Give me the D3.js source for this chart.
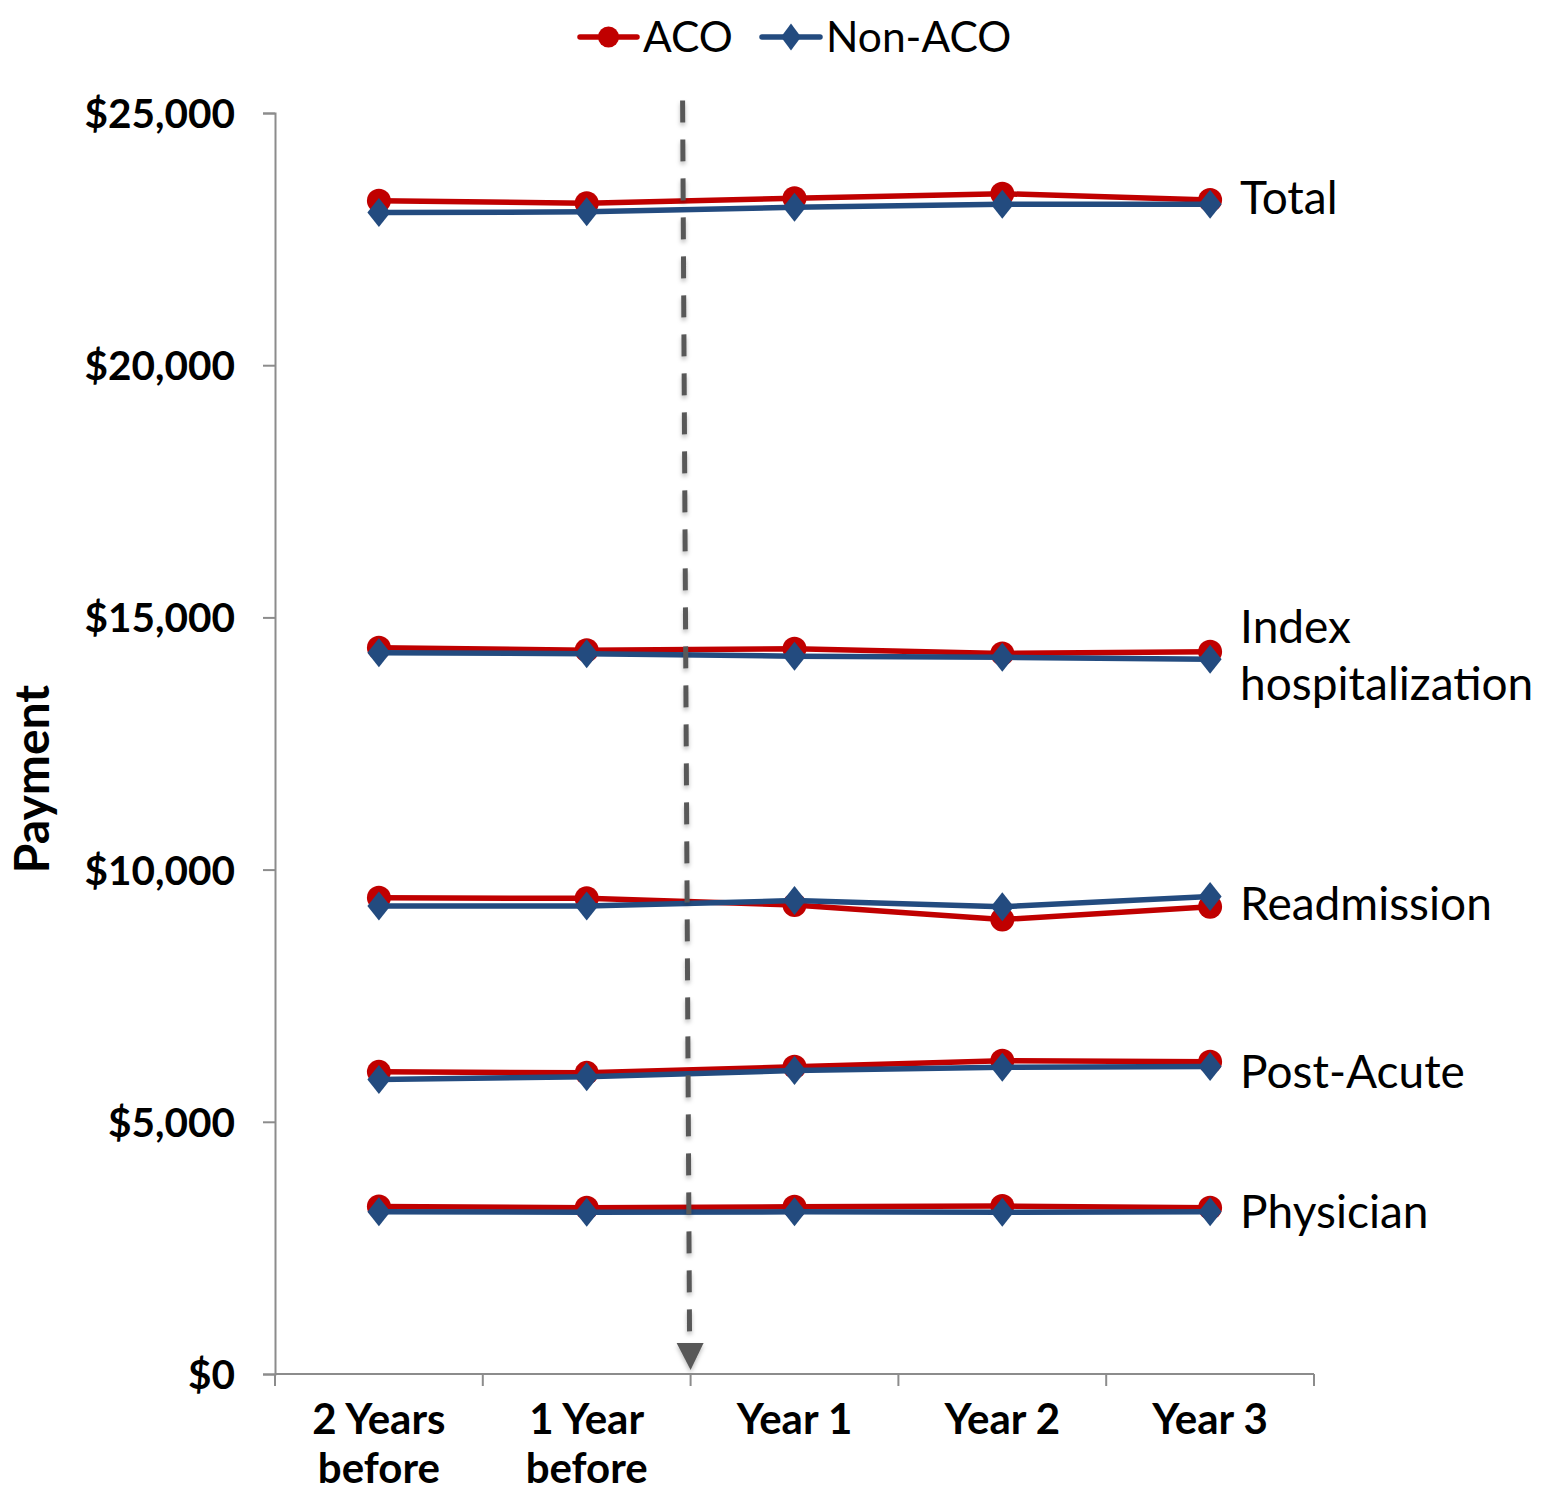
<!DOCTYPE html>
<html>
<head>
<meta charset="utf-8">
<script src="https://cdn.jsdelivr.net/npm/d3@7"></script>
<style>
  html, body { margin: 0; padding: 0; background: #ffffff; }
  svg { display: block; }
  text { font-family: Lato, "Open Sans", "Noto Sans", sans-serif; fill: #000; }
</style>
</head>
<body>
<script>
// ---------- data ----------
const categories = ["2 Years before", "1 Year before", "Year 1", "Year 2", "Year 3"];
const categoryLines = [["2 Years", "before"], ["1 Year", "before"], ["Year 1"], ["Year 2"], ["Year 3"]];
const components = ["Total", "Index hospitalization", "Readmission", "Post-Acute", "Physician"];
const componentLines = [["Total"], ["Index", "hospitalization"], ["Readmission"], ["Post-Acute"], ["Physician"]];

const acoTotal        = [23260, 23210, 23310, 23400, 23275];
const nonAcoTotal     = [23025, 23040, 23130, 23190, 23190];
const acoIndex        = [14400, 14350, 14380, 14285, 14320];
const nonAcoIndex     = [14300, 14280, 14230, 14210, 14170];
const acoReadmission  = [9440, 9430, 9300, 9010, 9265];
const nonAcoReadmission = [9280, 9280, 9385, 9265, 9465];
const acoPostAcute    = [5990, 5970, 6090, 6210, 6190];
const nonAcoPostAcute = [5840, 5895, 6015, 6080, 6095];
const acoPhysician    = [3320, 3295, 3315, 3330, 3295];
const nonAcoPhysician = [3218, 3205, 3215, 3205, 3215];

const yTicks = [0, 5000, 10000, 15000, 20000, 25000];
const seriesNames = ["ACO", "Non-ACO"];
const arrowTopValue = 25250;

// ---------- styling ----------
const W = 1546, H = 1498;
const plot = { left: 275, right: 1314, top: 113, bottom: 1374 };
const colors = { "ACO": "#C00000", "Non-ACO": "#234B7F" };
const axisColor = "#8C8C8C";
const labelOffsets = { "Total": -4, "Index hospitalization": 0, "Readmission": 2, "Post-Acute": 8, "Physician": 2 };

const svg = d3.select("body").append("svg").attr("width", W).attr("height", H);

const defs = svg.append("defs");
const f = defs.append("filter").attr("id", "shadow").attr("x", "-50%").attr("y", "-5%").attr("width", "200%").attr("height", "110%");
f.append("feDropShadow").attr("dx", 0).attr("dy", 3).attr("stdDeviation", 2).attr("flood-color", "#000").attr("flood-opacity", 0.25);

const x = d3.scaleBand().domain(categories).range([plot.left, plot.right]).paddingInner(0).paddingOuter(0);
const y = d3.scaleLinear().domain([0, 25000]).range([plot.bottom, plot.top]);
const cx = c => x(c) + x.bandwidth() / 2;

// y axis
const yAxis = d3.axisLeft(y).tickValues(yTicks).tickSize(12).tickSizeOuter(12).tickPadding(28)
  .tickFormat(d => "$" + d3.format(",")(d));
const gy = svg.append("g").attr("transform", `translate(${plot.left},0)`).call(yAxis);
gy.selectAll("path, line").attr("stroke", axisColor).attr("stroke-width", 2);
gy.selectAll("text").attr("font-size", 40.5).attr("font-weight", 700)
  .attr("font-family", "Lato, sans-serif").attr("fill", "#000").attr("dy", "0.36em");

// x axis
const gx = svg.append("g");
gx.append("line").attr("x1", plot.left).attr("x2", plot.right).attr("y1", y(0)).attr("y2", y(0))
  .attr("stroke", axisColor).attr("stroke-width", 2);
const boundaries = categories.map(c => x(c)).concat([x.range()[1]]);
gx.selectAll("line.tick").data(boundaries).enter().append("line").attr("class", "tick")
  .attr("x1", d => d).attr("x2", d => d).attr("y1", y(0)).attr("y2", y(0) + 12)
  .attr("stroke", axisColor).attr("stroke-width", 2);
const xl = gx.selectAll("text.xl").data(categories).enter().append("text").attr("class", "xl")
  .attr("x", d => cx(d)).attr("y", y(0) + 60).attr("text-anchor", "middle")
  .attr("font-size", 42).attr("font-weight", 700);
xl.each(function(d, i) {
  const t = d3.select(this);
  categoryLines[i].forEach((ln, j) => {
    t.append("tspan").attr("x", cx(d)).attr("dy", j === 0 ? 0 : 49).text(ln);
  });
});

// y title
svg.append("text").attr("transform", `translate(49,779) rotate(-90)`)
  .attr("text-anchor", "middle").attr("font-size", 48).attr("font-weight", 700).text("Payment");

// series
const acoSets = [acoTotal, acoIndex, acoReadmission, acoPostAcute, acoPhysician];
const nonSets = [nonAcoTotal, nonAcoIndex, nonAcoReadmission, nonAcoPostAcute, nonAcoPhysician];
const line = d3.line().x((d, i) => cx(categories[i])).y(d => y(d));
const diamond = (hw, hh) => `M0,${-hh}L${hw},0L0,${hh}L${-hw},0Z`;

function drawSeries(sets, name) {
  const g = svg.append("g");
  sets.forEach(vals => {
    g.append("path").datum(vals).attr("d", line).attr("fill", "none")
      .attr("stroke", colors[name]).attr("stroke-width", 5.5).attr("stroke-linejoin", "round");
    const m = g.selectAll(null).data(vals).enter();
    if (name === "ACO") {
      m.append("circle").attr("cx", (d, i) => cx(categories[i])).attr("cy", d => y(d)).attr("r", 12)
        .attr("fill", colors[name]);
    } else {
      m.append("path").attr("transform", (d, i) => `translate(${cx(categories[i])},${y(d)})`)
        .attr("d", diamond(11.5, 14.5)).attr("fill", colors[name]);
    }
  });
}
drawSeries(acoSets, "ACO");
drawSeries(nonSets, "Non-ACO");

// component labels
const last = categories.length - 1;
components.forEach((c, k) => {
  const mid = (acoSets[k][last] + nonSets[k][last]) / 2;
  const lines = componentLines[k];
  const lh = 57;
  const lx = cx(categories[last]) + 30;
  const t = svg.append("text").attr("x", lx)
    .attr("y", y(mid) + labelOffsets[c] - (lines.length - 1) * lh / 2)
    .attr("font-size", 46);
  lines.forEach((ln, j) => t.append("tspan").attr("x", lx).attr("dy", j === 0 ? "0.35em" : lh).text(ln));
});

// dashed arrow
const xb = x(categories[2]);
const arrowG = svg.append("g").attr("filter", "url(#shadow)");
arrowG.append("line").attr("x1", xb - 8).attr("y1", y(arrowTopValue)).attr("x2", xb - 1).attr("y2", y(0) - 28)
  .attr("stroke", "#595959").attr("stroke-width", 5).attr("stroke-dasharray", "22 17");
arrowG.append("path").attr("d", `M${xb - 14},${y(0) - 31}L${xb + 13},${y(0) - 31}L${xb},${y(0) - 4}Z`).attr("fill", "#595959");

// legend
const lg = svg.append("g");
const legendItems = [
  { name: "ACO", x0: 580, x1: 637, tx: 643 },
  { name: "Non-ACO", x0: 762, x1: 820, tx: 826 }
];
const ly = 37;
legendItems.forEach(it => {
  lg.append("line").attr("x1", it.x0).attr("x2", it.x1).attr("y1", ly).attr("y2", ly)
    .attr("stroke", colors[it.name]).attr("stroke-width", 5.5).attr("stroke-linecap", "round");
  const mx = (it.x0 + it.x1) / 2;
  if (it.name === "ACO") lg.append("circle").attr("cx", mx).attr("cy", ly).attr("r", 10.5).attr("fill", colors[it.name]);
  else lg.append("path").attr("transform", `translate(${mx},${ly})`).attr("d", diamond(10, 13.5)).attr("fill", colors[it.name]);
  lg.append("text").attr("x", it.tx).attr("y", ly).attr("dy", "0.35em").attr("font-size", 42.5).text(it.name);
});
</script>
</body>
</html>
